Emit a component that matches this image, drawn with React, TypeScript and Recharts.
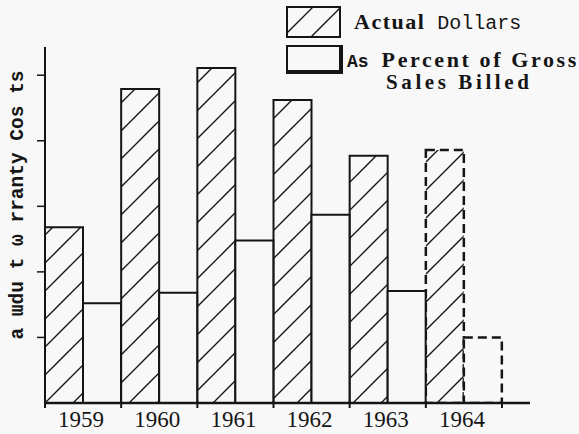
import { BarChart, Bar, Cell, XAxis, YAxis } from 'recharts';

const years = ['1959', '1960', '1961', '1962', '1963', '1964'];
const actualDollars = [2.68, 4.79, 5.11, 4.62, 3.77, 3.86];
const percentOfSales = [1.52, 1.68, 2.48, 2.87, 1.71, 1.0];
const projected = [false, false, false, false, false, true];
const yTicks = [1, 2, 3, 4, 5];

const data = years.map((y, i) => ({ year: y, actual: actualDollars[i], percent: percentOfSales[i] }));

const INK = '#151515';
const BG = '#f8f8f8';

function YearTick(props: any) {
  const { x, y, payload, index } = props;
  const off = payload?.offset ?? 38;
  return (
    <g>
      <line x1={x - off} y1={y - 2} x2={x - off} y2={y + 5} stroke={INK} strokeWidth={2} />
      {index === years.length - 1 && (
        <line x1={x + off} y1={y - 2} x2={x + off} y2={y + 5} stroke={INK} strokeWidth={2} />
      )}
      <text x={x - 2} y={y + 24} textAnchor="middle" fontFamily="Liberation Serif" fontSize={23} fill={INK}>
        {payload.value}
      </text>
    </g>
  );
}

function YTitle() {
  return (
    <text
      x={23}
      y={205}
      transform="rotate(-90 23 205)"
      textAnchor="middle"
      fontFamily="Liberation Mono"
      fontWeight="bold"
      fontSize={19.5}
      fill={INK}
    >
      a ɯdu t ω rranty Cos ts
    </text>
  );
}

export default function App() {
  return (
    <div style={{ position: 'absolute', left: 0, top: 0, width: 579, height: 434, background: BG }}>
      <BarChart
        width={579}
        height={434}
        data={data}
        margin={{ top: 47, right: 49, bottom: 0, left: 0 }}
        barGap={0}
        barCategoryGap={0}
      >
        <defs>
          <pattern id="hatch" patternUnits="userSpaceOnUse" width={28} height={28}>
            <path d="M0,28 L28,0 M-7,7 L7,-7 M21,35 L35,21" stroke={INK} strokeWidth={1.4} />
          </pattern>
        </defs>
        <XAxis
          dataKey="year"
          interval={0}
          padding={{ left: 0, right: 28 }}
          height={31}
          tickSize={0}
          tickMargin={0}
          tickLine={false}
          axisLine={{ stroke: INK, strokeWidth: 2.5 }}
          tick={<YearTick />}
        />
        <YAxis
          width={45}
          domain={[0, 5.43]}
          ticks={yTicks}
          allowDataOverflow
          tickSize={8}
          tickFormatter={() => ''}
          tickLine={{ stroke: INK, strokeWidth: 1.5 }}
          axisLine={{ stroke: INK, strokeWidth: 2 }}
          label={<YTitle />}
        />
        <Bar dataKey="actual" fill="url(#hatch)" stroke={INK} strokeWidth={2} isAnimationActive={false}>
          {data.map((d, i) => (
            <Cell
              key={d.year}
              fill="url(#hatch)"
              stroke={INK}
              strokeWidth={projected[i] ? 2.5 : 2}
              strokeDasharray={projected[i] ? '9 5' : undefined}
            />
          ))}
        </Bar>
        <Bar dataKey="percent" fill={BG} stroke={INK} strokeWidth={2} isAnimationActive={false}>
          {data.map((d, i) => (
            <Cell
              key={d.year}
              fill={BG}
              stroke={INK}
              strokeWidth={projected[i] ? 2.5 : 2}
              strokeDasharray={projected[i] ? '9 5' : undefined}
            />
          ))}
        </Bar>
      </BarChart>

      <svg style={{ position: 'absolute', left: 286, top: 6 }} width={56} height={33}>
        <defs>
          <pattern id="hatchLegend" patternUnits="userSpaceOnUse" width={28} height={28}>
            <path d="M0,28 L28,0 M-7,7 L7,-7 M21,35 L35,21" stroke={INK} strokeWidth={1.4} />
          </pattern>
        </defs>
        <rect x={1} y={1} width={53} height={30} fill="url(#hatchLegend)" stroke={INK} strokeWidth={2} />
      </svg>
      <div
        style={{
          position: 'absolute',
          left: 286,
          top: 45,
          width: 51,
          height: 23,
          borderTop: `2px solid ${INK}`,
          borderLeft: `2px solid ${INK}`,
          borderRight: `4px solid ${INK}`,
          borderBottom: `4px solid ${INK}`,
        }}
      />
      <div style={{ position: 'absolute', left: 354, top: 8, whiteSpace: 'nowrap', color: INK, lineHeight: '28px' }}>
        <span style={{ fontFamily: 'Liberation Serif', fontWeight: 'bold', fontSize: 22, letterSpacing: 1.5 }}>Actual</span>
        <span style={{ fontFamily: 'Liberation Mono', fontSize: 20, marginLeft: 12 }}>Dollars</span>
      </div>
      <div style={{ position: 'absolute', left: 347, top: 46, whiteSpace: 'nowrap', color: INK, lineHeight: '28px' }}>
        <span style={{ fontFamily: 'Liberation Mono', fontWeight: 'bold', fontSize: 18 }}>As</span>
        <span style={{ fontFamily: 'Liberation Serif', fontWeight: 'bold', fontSize: 22, letterSpacing: 2.6, marginLeft: 13 }}>
          Percent of Gross
        </span>
      </div>
      <div
        style={{
          position: 'absolute',
          left: 386,
          top: 70,
          whiteSpace: 'nowrap',
          color: INK,
          lineHeight: '24px',
          fontFamily: 'Liberation Serif',
          fontWeight: 'bold',
          fontSize: 21,
          letterSpacing: 3.6,
        }}
      >
        Sales Billed
      </div>
    </div>
  );
}
